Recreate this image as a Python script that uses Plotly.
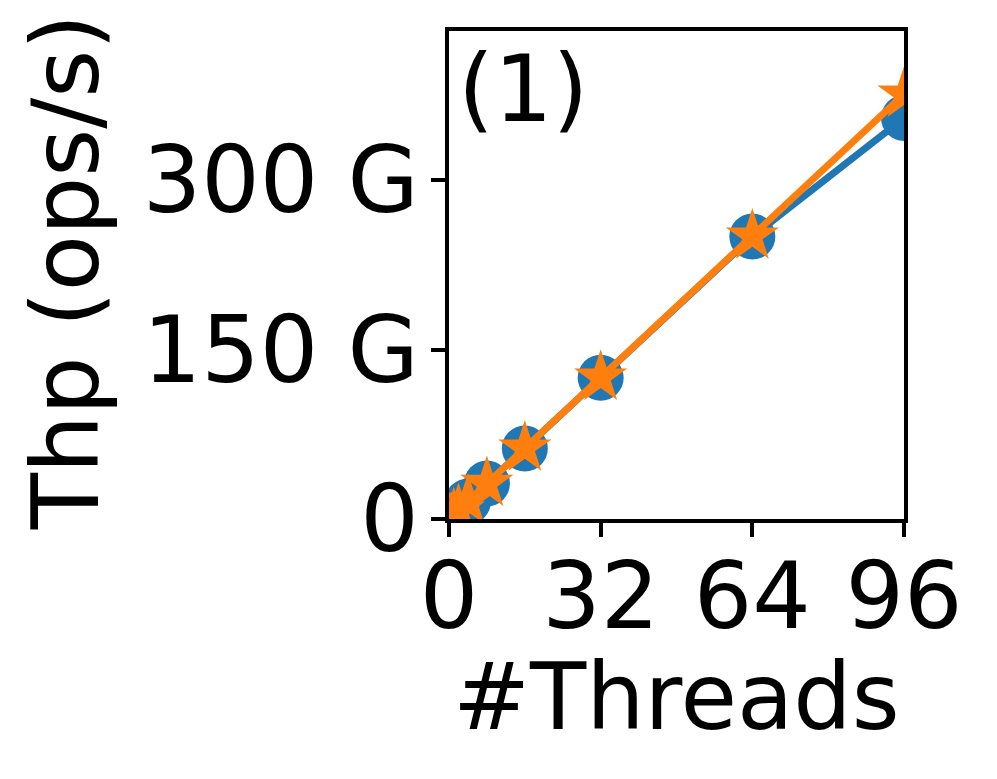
import plotly.graph_objects as go

# data (throughput in G ops/s)
threads = [1, 2, 4, 8, 16, 32, 64, 96]
thp_blue = [3.9, 7.8, 15.6, 31.5, 62.5, 125, 250, 355]
thp_orange = [3.9, 7.8, 15.7, 31.5, 62.8, 125.5, 250.5, 376]

x_ticks = [0, 32, 64, 96]
y_ticks = [0, 150, 300]
y_ticklabels = ["0", "150 G", "300 G"]

FONT = "DejaVu Sans"
FS = 92

fig = go.Figure()
fig.add_trace(go.Scatter(
    x=threads, y=thp_blue, mode="lines+markers", name="series 1",
    line=dict(color="#1f77b4", width=7),
    marker=dict(symbol="circle", size=46, color="#1f77b4"),
))
fig.add_trace(go.Scatter(
    x=threads, y=thp_orange, mode="lines+markers", name="series 2",
    line=dict(color="#ff7f0e", width=7),
    marker=dict(symbol="star", size=40, color="#ff7f0e"),
))

axis_common = dict(
    showgrid=False, zeroline=False, showline=True, linecolor="black", linewidth=3.5,
    mirror=True, ticks="outside", ticklen=14, tickwidth=3.5, tickcolor="black",
    tickfont=dict(family=FONT, size=FS, color="black"),
)
fig.update_xaxes(range=[0, 96], tickvals=x_ticks, ticklabelstandoff=-19, **axis_common)
fig.update_yaxes(range=[0, 432], tickvals=y_ticks, ticktext=y_ticklabels,
                 ticklabelstandoff=-6, **axis_common)

fig.add_annotation(text="#Threads", xref="paper", yref="paper", x=0.5, y=-0.365,
                   xanchor="center", yanchor="middle", showarrow=False,
                   font=dict(family=FONT, size=FS, color="black"))
fig.add_annotation(text="Thp (ops/s)", xref="paper", yref="paper", x=-0.84, y=0.505,
                   xanchor="center", yanchor="middle", textangle=-90, showarrow=False,
                   font=dict(family=FONT, size=FS, color="black"))
fig.add_annotation(text="(1)", xref="paper", yref="paper", x=0.015, y=0.88,
                   xanchor="left", yanchor="middle", showarrow=False,
                   font=dict(family=FONT, size=FS, color="black"))

fig.update_layout(
    width=997, height=779,
    margin=dict(l=441, r=101, t=23, b=268),
    paper_bgcolor="white", plot_bgcolor="white",
    showlegend=False,
)
fig.write_html("out.html")
